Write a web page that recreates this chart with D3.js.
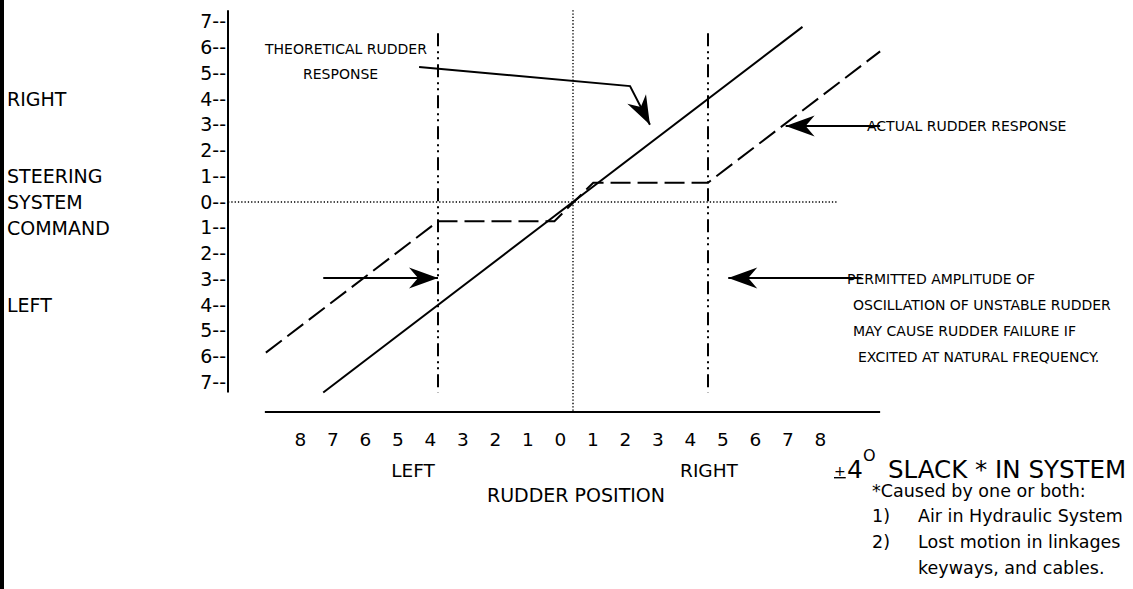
<!DOCTYPE html>
<html>
<head>
<meta charset="utf-8">
<script src="https://cdnjs.cloudflare.com/ajax/libs/d3/7.8.5/d3.min.js"></script>
<style>
  body { margin: 0; background: #fff; }
  svg { display: block; font-family: "DejaVu Sans", sans-serif; }
</style>
</head>
<body>
<div id="chart"></div>
<script>
'use strict';

// steering system command ticks (positive = right, negative = left)
const commandTicks = [7, 6, 5, 4, 3, 2, 1, 0, -1, -2, -3, -4, -5, -6, -7];
// rudder position labels under the axis (negative = left)
const rudderTicks = [-8, -7, -6, -5, -4, -3, -2, -1, 0, 1, 2, 3, 4, 5, 6, 7, 8];
// words down the left side and the command row they sit on
const sideLabelText = ["RIGHT", "STEERING", "SYSTEM", "COMMAND", "LEFT"];
const sideLabelRows = [4, 1, 0, -1, -4];
// theoretical response: rudder follows the command exactly
const theoreticalResponse = [[-7.4, -7.4], [6.8, 6.8]];
// actual response with +-4 degrees of slack
const actualResponse = [[-9.1, -5.85], [-4, -0.75], [-0.55, -0.75], [0.6, 0.75], [4, 0.75], [9.1, 5.85]];
// slack limits, drawn as dash-dot verticals
const slackLimits = [-4, 4];
// annotation arrows, in rudder / command units
const arrows = [
  [[-4.56, 5.24], [1.69, 4.5], [2.28, 3.0]],
  [[9.1, 2.95], [6.3, 2.95]],
  [[8.55, -2.95], [4.6, -2.95]],
  [[-7.4, -2.95], [-4, -2.95]]
];
const permittedText = ["PERMITTED AMPLITUDE OF", "OSCILLATION OF UNSTABLE RUDDER",
                       "MAY CAUSE RUDDER FAILURE IF", "EXCITED AT NATURAL FREQUENCY."];
const footnoteText = ["*Caused by one or both:", "Air in Hydraulic System",
                      "Lost motion in linkages", "keyways, and cables."];

const width = 1133, height = 589;
const axisX = 228, axisY = 412;

const svg = d3.select("#chart").append("svg")
    .attr("width", width)
    .attr("height", height);

svg.append("rect").attr("width", width).attr("height", height).attr("fill", "#fff");
// black edge on the left of the page
svg.append("rect").attr("x", 0).attr("y", 0).attr("width", 4).attr("height", height).attr("fill", "#000");

// scales
let x = d3.scaleLinear().domain([-4, 4]).range([438, 708]);
let y = d3.scaleLinear().domain([-7, 7]).range([382.25, 21.75]);
let tickX = d3.scaleLinear().domain([-8, 8]).range([300, 820]);

let line = d3.line()
    .x(d => x(d[0]))
    .y(d => y(d[1]));

// reference lines through zero
svg.append("line")
    .attr("x1", axisX).attr("x2", x(7.85))
    .attr("y1", y(0)).attr("y2", y(0))
    .attr("stroke", "#000").attr("stroke-width", 1.4)
    .attr("stroke-dasharray", "1.3,2");
svg.append("line")
    .attr("x1", x(0)).attr("x2", x(0))
    .attr("y1", y(7.45)).attr("y2", axisY)
    .attr("stroke", "#000").attr("stroke-width", 1.4)
    .attr("stroke-dasharray", "1.3,2");

// slack limits
svg.selectAll(".slack")
    .data(slackLimits)
    .enter()
    .append("path")
    .attr("class", "slack")
    .attr("d", d => line([[d, 6.55], [d, -7.4]]))
    .attr("fill", "none")
    .attr("stroke", "#000").attr("stroke-width", 2)
    .attr("stroke-dasharray", "13,5,2,4,2,5");

// responses
svg.append("path")
    .datum(theoreticalResponse)
    .attr("d", line)
    .attr("fill", "none")
    .attr("stroke", "#000").attr("stroke-width", 2);
svg.append("path")
    .datum(actualResponse)
    .attr("d", line)
    .attr("fill", "none")
    .attr("stroke", "#000").attr("stroke-width", 2)
    .attr("stroke-dasharray", "20,7");

// y axis
let yAxis = svg.append("g")
    .attr("transform", "translate(" + (axisX - 2) + ",0)")
    .call(d3.axisLeft(y).tickValues(commandTicks).tickSize(0).tickPadding(0)
        .tickFormat(d => Math.abs(d) + "--"));
yAxis.select(".domain").remove();
yAxis.selectAll("text").attr("font-size", 19).attr("font-family", "DejaVu Sans").attr("fill", "#000");
svg.append("line")
    .attr("x1", axisX).attr("x2", axisX)
    .attr("y1", y(7.45)).attr("y2", y(-7.4))
    .attr("stroke", "#000").attr("stroke-width", 2);

// x axis
svg.append("line")
    .attr("x1", x(-9.13)).attr("x2", x(9.1))
    .attr("y1", axisY).attr("y2", axisY)
    .attr("stroke", "#000").attr("stroke-width", 2);
let xAxis = svg.append("g")
    .attr("transform", "translate(0," + axisY + ")")
    .call(d3.axisBottom(tickX).tickValues(rudderTicks).tickSize(0).tickPadding(21)
        .tickFormat(d => Math.abs(d)));
xAxis.select(".domain").remove();
xAxis.selectAll("text").attr("font-size", 18.5).attr("font-family", "DejaVu Sans").attr("fill", "#000");

// side labels
svg.selectAll(".side")
    .data(sideLabelText)
    .enter()
    .append("text")
    .attr("class", "side")
    .attr("x", 7)
    .attr("y", (d, i) => y(sideLabelRows[i]))
    .attr("dy", "0.36em")
    .attr("font-size", 19)
    .text(d => d);

// axis titles
svg.append("text").attr("x", 413).attr("y", 477).attr("text-anchor", "middle").attr("font-size", 18.5).text("LEFT");
svg.append("text").attr("x", 709).attr("y", 477).attr("text-anchor", "middle").attr("font-size", 18.5).text("RIGHT");
svg.append("text").attr("x", x(0) + 3).attr("y", 502).attr("text-anchor", "middle").attr("font-size", 19).text("RUDDER POSITION");

// annotations
svg.append("text").attr("x", 265).attr("y", 54).attr("font-size", 14).text("THEORETICAL RUDDER");
svg.append("text").attr("x", 303).attr("y", 79).attr("font-size", 14).text("RESPONSE");
svg.append("text").attr("x", 867).attr("y", 131).attr("font-size", 14).text("ACTUAL RUDDER RESPONSE");
let permittedX = [847, 853, 853, 858];
svg.selectAll(".permitted")
    .data(permittedText)
    .enter()
    .append("text")
    .attr("class", "permitted")
    .attr("x", (d, i) => permittedX[i])
    .attr("y", (d, i) => 284 + i * 26)
    .attr("font-size", 14)
    .text(d => d);

// arrows
arrows.forEach(pts => {
    svg.append("path")
        .datum(pts)
        .attr("d", line)
        .attr("fill", "none")
        .attr("stroke", "#000").attr("stroke-width", 2);
    let a = pts[pts.length - 2], b = pts[pts.length - 1];
    let angle = Math.atan2(y(b[1]) - y(a[1]), x(b[0]) - x(a[0])) * 180 / Math.PI;
    svg.append("path")
        .attr("d", "M0,0L-29,-10.5L-20,0L-29,10.5Z")
        .attr("transform", "translate(" + x(b[0]) + "," + y(b[1]) + ") rotate(" + angle + ")")
        .attr("fill", "#000");
});

// slack note
svg.append("text").attr("x", 834).attr("y", 476).attr("font-size", 14)
    .attr("text-decoration", "underline").text("+");
svg.append("text").attr("x", 847).attr("y", 478).attr("font-size", 25).text("4");
svg.append("text").attr("x", 863).attr("y", 461).attr("font-size", 16).text("O");
svg.append("text").attr("x", 888).attr("y", 478).attr("font-size", 24.5).text("SLACK * IN SYSTEM");

svg.append("text").attr("x", 872).attr("y", 497).attr("font-size", 17.5).text(footnoteText[0]);
svg.append("text").attr("x", 872).attr("y", 522).attr("font-size", 17.5).text("1)");
svg.append("text").attr("x", 872).attr("y", 548).attr("font-size", 17.5).text("2)");
svg.selectAll(".foot")
    .data(footnoteText.slice(1))
    .enter()
    .append("text")
    .attr("class", "foot")
    .attr("x", 918)
    .attr("y", (d, i) => 522 + i * 26)
    .attr("font-size", 17.5)
    .text(d => d);
</script>
</body>
</html>
